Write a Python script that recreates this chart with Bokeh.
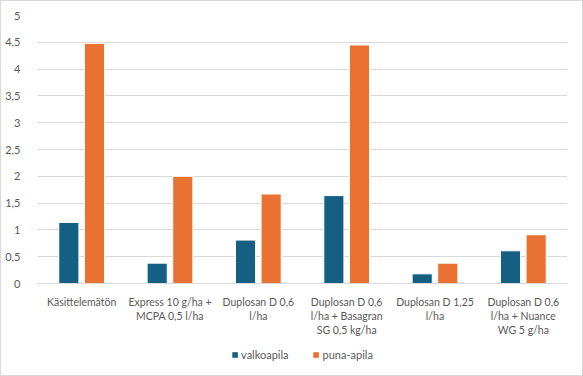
from bokeh.plotting import figure
from bokeh.layouts import column
from bokeh.models import ColumnDataSource, FixedTicker, CustomJSTickFormatter, Legend, LegendItem
from bokeh.transform import dodge
from bokeh.embed import file_html
from bokeh.resources import INLINE

categories = [
    "Käsittelemätön",
    "Express 10 g/ha +\nMCPA 0,5 l/ha",
    "Duplosan D 0,6\nl/ha",
    "Duplosan D 0,6\nl/ha + Basagran\nSG 0,5 kg/ha",
    "Duplosan D 1,25\nl/ha",
    "Duplosan D 0,6\nl/ha + Nuance\nWG 5 g/ha",
]
valkoapila = [1.14, 0.38, 0.81, 1.64, 0.18, 0.61]
puna_apila = [4.48, 2.0, 1.67, 4.45, 0.38, 0.91]
series_names = ["valkoapila", "puna-apila"]
series_colors = ["#156082", "#E97132"]
y_ticks = [0, 0.5, 1, 1.5, 2, 2.5, 3, 3.5, 4, 4.5, 5]

FONT = "Lato"
GREY = "#595959"

src = ColumnDataSource(dict(cat=categories, v=valkoapila, p=puna_apila))

p = figure(x_range=categories, y_range=(0, 5), width=581, height=340,
           output_backend="svg", toolbar_location=None,
           min_border_left=36, min_border_right=15, min_border_top=14, min_border_bottom=58)

p.vbar(x=dodge("cat", -0.145, range=p.x_range), top="v", width=0.228, source=src,
       fill_color=series_colors[0], line_color="white", line_width=1)
p.vbar(x=dodge("cat", 0.145, range=p.x_range), top="p", width=0.228, source=src,
       fill_color=series_colors[1], line_color="white", line_width=1)

p.outline_line_color = None
p.xgrid.grid_line_color = None
p.ygrid.grid_line_color = "#d9d9d9"
p.ygrid.grid_line_width = 1
p.yaxis.ticker = FixedTicker(ticks=y_ticks)
p.yaxis.formatter = CustomJSTickFormatter(code="return tick.toString().replace('.', ',');")
for ax in (p.xaxis, p.yaxis):
    ax.axis_line_color = None
    ax.major_tick_line_color = None
    ax.minor_tick_line_color = None
    ax.major_label_text_font = FONT
    ax.major_label_text_font_size = "11px"
    ax.major_label_text_color = GREY
p.xaxis.major_label_text_font_size = "10.5px"
p.xaxis.axis_line_color = "#d9d9d9"
p.yaxis.major_label_standoff = 11
p.xaxis.major_label_standoff = 6
p.x_range.range_padding = 0.0

# legend strip below the chart (swatch renderers sit outside the visible range)
lg = figure(width=581, height=34, output_backend="svg", toolbar_location=None,
            x_axis_location=None, y_axis_location=None,
            min_border=0, x_range=(0, 1), y_range=(0, 1))
lg.outline_line_color = None
lg.grid.visible = False
lr1 = lg.rect(x=[-5], y=[-5], width=0.1, height=0.1,
              fill_color=series_colors[0], line_color=None)
lr2 = lg.rect(x=[-5], y=[-5], width=0.1, height=0.1,
              fill_color=series_colors[1], line_color=None)
legend = Legend(items=[LegendItem(label=series_names[0], renderers=[lr1]),
                       LegendItem(label=series_names[1], renderers=[lr2])],
                orientation="horizontal", location="top_center",
                glyph_width=7, glyph_height=7, label_text_font=FONT,
                label_text_font_size="11px", label_text_color=GREY,
                spacing=24, label_standoff=3, border_line_color=None,
                background_fill_alpha=0, padding=2, margin=7)
lg.add_layout(legend, "center")

layout = column(p, lg, spacing=0)
layout.styles = {"border": "1px solid #d9d9d9", "background-color": "white"}

open("out.html", "w").write(file_html(layout, INLINE))
